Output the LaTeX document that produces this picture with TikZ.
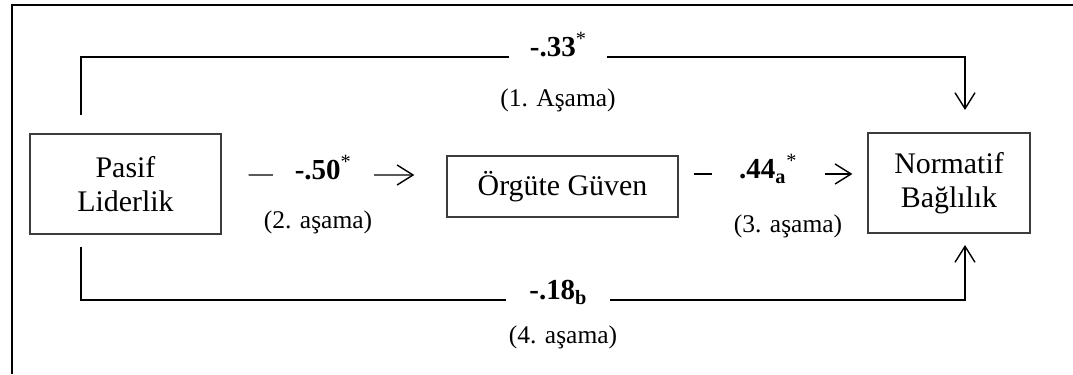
\documentclass[tikz,border=0pt]{standalone}
\usepackage{fontspec}
\setmainfont{Liberation Serif}
\newcommand{\boxfont}{\fontsize{17}{19.5}\selectfont}
\newcommand{\coeffont}{\fontsize{16.5}{19}\selectfont\bfseries}
\newcommand{\stagefont}{\fontsize{14.5}{17}\selectfont}
\usepackage{xcolor}
\definecolor{PathInk}{HTML}{000000}
\definecolor{BoxRule}{HTML}{3C3C3C}
\definecolor{PagePaper}{HTML}{FFFFFF}
\usepackage{tikz}
\usetikzlibrary{calc,arrows.meta}

\begin{document}
\begin{tikzpicture}[
        construct/.style={
            draw=BoxRule,
            fill=PagePaper,
            text=PathInk,
            line width=0.7pt,
            align=center,
            inner sep=0pt,
            font=\boxfont
        },
        route/.style={
            -{Straight Barb[length=0.32cm,width=0.4cm]},
            line width=0.8pt,
            draw=PathInk
        },
        coef/.style={
            fill=PagePaper,
            text=PathInk,
            anchor=base,
            inner xsep=0pt,
            inner ysep=2pt,
            font=\coeffont
        },
        stage/.style={
            text=PathInk,
            font=\stagefont
        },
        outerframe/.style={
            line width=1.4pt,
            draw=PathInk
        }
    ]
        \useasboundingbox (0,0) rectangle (21.46,7.48);
        \draw[outerframe] (0.24,0) |- (21.46,7.38);

        \node[construct, minimum width=3.82cm, minimum height=2cm] (pasif) at (2.51,3.80)
            {Pasif\\Liderlik};
        \node[construct, minimum width=4.62cm, minimum height=1.22cm] (guven) at (11.25,3.75)
            {Örgüte Güven};
        \node[construct, minimum width=3.24cm, minimum height=2cm] (normatif) at (18.98,3.82)
            {Normatif\\Bağlılık};

        \coordinate (toptail) at (1.62,5.18);
        \coordinate (tophead) at (19.30,5.28);
        \coordinate (bottail) at (1.62,2.54);
        \coordinate (bothead) at (19.30,2.58);

        \draw[route] (toptail) -- ++(0,1.16)
            -| node[coef, pos=0.27, minimum width=1.96cm] {-.33\textsuperscript{\mdseries*}} (tophead);
        \draw[route] (bottail) -- ++(0,-1.06)
            -| node[coef, pos=0.27, minimum width=2.08cm] {-.18\textsubscript{b}} (bothead);
        \draw[route] ($(pasif.east)+(0.54,0.18)$)
            -- node[coef, pos=0.45, yshift=-0.1cm, minimum width=2.02cm] {-.50\textsuperscript{\mdseries*}}
            ($(guven.west)+(-0.64,0.23)$);
        \draw[route] ($(guven.east)+(0.30,0.25)$)
            -- node[coef, pos=0.47, yshift=-0.1cm, minimum width=2.26cm] {.44\textsubscript{a}\textsuperscript{\mdseries*}}
            ($(normatif.west)+(-0.30,0.18)$);

        \node[stage] (stageone) at (11.16,5.48) {(1. Aşama)};
        \node[stage] (stagetwo) at (6.36,3.04) {(2. aşama)};
        \node[stage] (stagethree) at (15.76,2.96) {(3. aşama)};
        \node[stage] (stagefour) at (11.26,0.74) {(4. aşama)};
    \end{tikzpicture}
\end{document}
